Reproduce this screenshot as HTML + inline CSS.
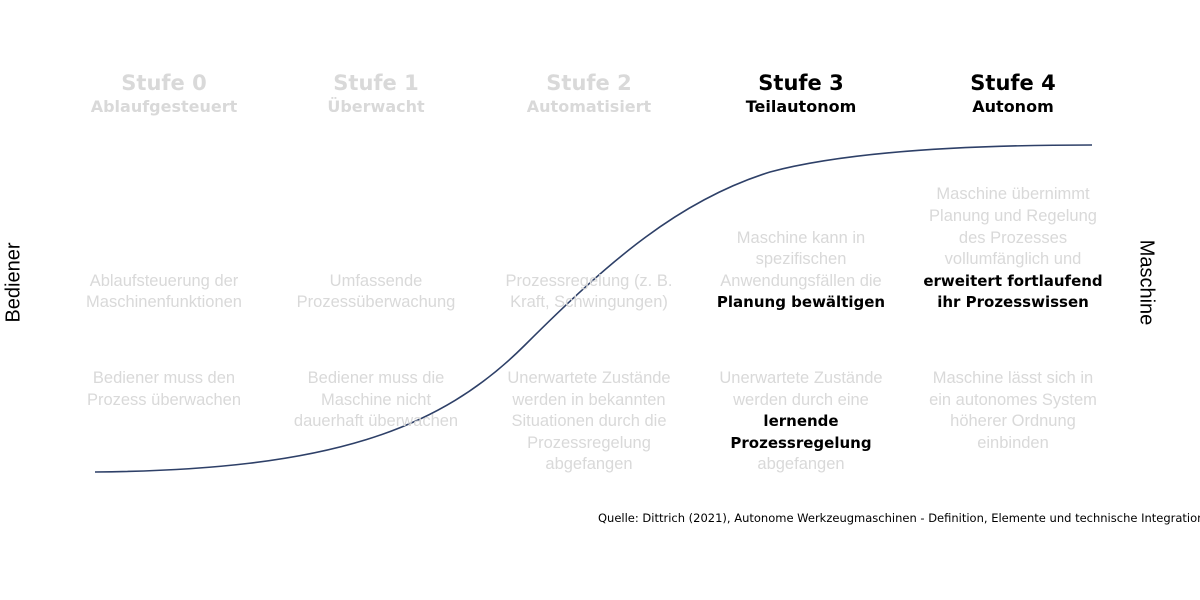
<!DOCTYPE html>
<html><head><meta charset="utf-8"><style>
body{margin:0;width:1200px;height:600px;background:#fff;position:relative;overflow:hidden;font-family:Tahoma,"DejaVu Sans","Liberation Sans",sans-serif;}
.c{position:absolute;width:230px;text-align:center;color:#d9d9d9;}
.t{font-weight:bold;line-height:23px;}
.t .a{font-size:21px;display:block}
.t .b{font-size:16px;display:block}
.m{font-size:16.5px;line-height:21.6px;font-family:"Liberation Sans",sans-serif;}
.k{color:#000;font-weight:bold}
</style></head><body>
<svg width="1200" height="600" style="position:absolute;left:0;top:0">
<path d="M95,472 C330,470 440,430 525,345 C610,260 680,200 770,172 C860,148 1000,145 1092,145" fill="none" stroke="#2e4068" stroke-width="1.6"/>
</svg>
<div class="c t" style="left:49px;top:72px"><span class="a">Stufe 0</span><span class="b">Ablaufgesteuert</span></div>
<div class="c t" style="left:261px;top:72px"><span class="a">Stufe 1</span><span class="b">Überwacht</span></div>
<div class="c t" style="left:474px;top:72px"><span class="a">Stufe 2</span><span class="b">Automatisiert</span></div>
<div class="c t k" style="left:686px;top:72px"><span class="a">Stufe 3</span><span class="b">Teilautonom</span></div>
<div class="c t k" style="left:898px;top:72px"><span class="a">Stufe 4</span><span class="b">Autonom</span></div>

<div class="c m" style="left:49px;bottom:286px">Ablaufsteuerung der<br>Maschinenfunktionen</div>
<div class="c m" style="left:261px;bottom:286px">Umfassende<br>Prozessüberwachung</div>
<div class="c m" style="left:474px;bottom:286px">Prozessregelung (z. B.<br>Kraft, Schwingungen)</div>
<div class="c m" style="left:686px;bottom:286px">Maschine kann in<br>spezifischen<br>Anwendungsfällen die<br><span class="k" style="font-family:Tahoma,'DejaVu Sans',sans-serif;font-size:15px">Planung bewältigen</span></div>
<div class="c m" style="left:898px;bottom:286px">Maschine übernimmt<br>Planung und Regelung<br>des Prozesses<br>vollumfänglich und<br><span class="k" style="font-family:Tahoma,'DejaVu Sans',sans-serif;font-size:15px">erweitert fortlaufend<br>ihr Prozesswissen</span></div>

<div class="c m" style="left:49px;top:368px">Bediener muss den<br>Prozess überwachen</div>
<div class="c m" style="left:261px;top:368px">Bediener muss die<br>Maschine nicht<br>dauerhaft überwachen</div>
<div class="c m" style="left:474px;top:368px">Unerwartete Zustände<br>werden in bekannten<br>Situationen durch die<br>Prozessregelung<br>abgefangen</div>
<div class="c m" style="left:686px;top:368px">Unerwartete Zustände<br>werden durch eine<br><span class="k" style="font-family:Tahoma,'DejaVu Sans',sans-serif;font-size:15px">lernende<br>Prozessregelung</span><br>abgefangen</div>
<div class="c m" style="left:898px;top:368px">Maschine lässt sich in<br>ein autonomes System<br>höherer Ordnung<br>einbinden</div>

<div style="position:absolute;left:-36px;top:271px;width:100px;text-align:center;font-size:20px;transform:rotate(-90deg);font-family:'Liberation Sans',sans-serif;">Bediener</div>
<div style="position:absolute;left:1096px;top:271px;width:100px;text-align:center;font-size:20px;transform:rotate(90deg);font-family:'Liberation Sans',sans-serif;">Maschine</div>
<div style="position:absolute;left:598px;top:511px;white-space:nowrap;font-size:11.5px;color:#000;">Quelle: Dittrich (2021), Autonome Werkzeugmaschinen - Definition, Elemente und technische Integration</div>
</body></html>
